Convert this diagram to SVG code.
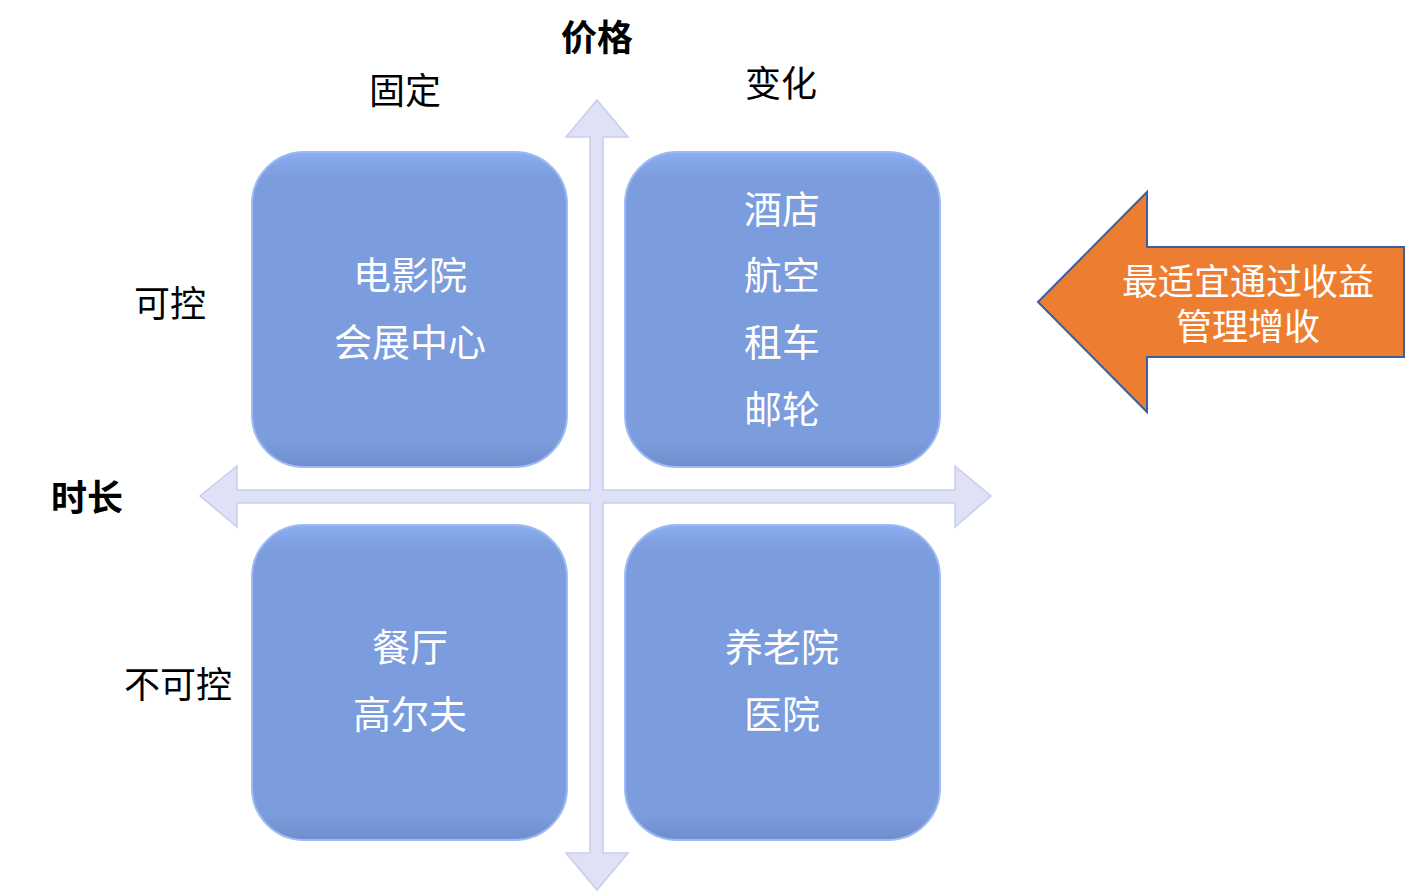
<svg xmlns="http://www.w3.org/2000/svg" width="1405" height="895" viewBox="0 0 1405 895">
<style>
.box{stroke:#9dbaf2;stroke-width:2;fill:url(#g)}
.bt{font-family:"Noto Sans CJK SC","Liberation Sans",sans-serif;font-size:38px;fill:#ffffff;text-anchor:middle;dominant-baseline:central}
.lb{font-family:"Noto Sans CJK SC","Liberation Sans",sans-serif;font-size:36px;fill:#000000;text-anchor:middle;dominant-baseline:central}
.ot{font-size:36px}
.bold{font-weight:bold}
.ax{fill:#dfe2f6;stroke:#c9cdeb;stroke-width:1.5}
</style>
<defs>
<linearGradient id="g" x1="0" y1="0" x2="0" y2="1">
<stop offset="0" stop-color="#8aaef0"/>
<stop offset="0.08" stop-color="#7b9cdd"/>
<stop offset="0.92" stop-color="#7b9cdd"/>
<stop offset="1" stop-color="#6f8dcc"/>
</linearGradient>
</defs>
<rect width="1405" height="895" fill="#ffffff"/>
<g id="connectors">
<path class="ax" d="M590,137 L566,137 L597,100 L628,137 L603,137 L603,490 L955,490 L955,466 L991,496 L955,527 L955,503 L603,503 L603,853 L628,853 L597,890 L566,853 L590,853 L590,503 L237,503 L237,527 L200,496 L237,466 L237,490 L590,490 Z"/>
</g>
<g id="n1"><rect class="box" x="252" y="152" width="315" height="315" rx="52"/>
<text class="bt" x="410" y="272">电影院</text><text class="bt" x="410" y="339">会展中心</text></g>
<g id="n2"><rect class="box" x="625" y="152" width="315" height="315" rx="52"/>
<text class="bt" x="782" y="206">酒店</text><text class="bt" x="782" y="272">航空</text><text class="bt" x="782" y="339">租车</text><text class="bt" x="782" y="406">邮轮</text></g>
<g id="n3"><rect class="box" x="252" y="525" width="315" height="315" rx="52"/>
<text class="bt" x="410" y="644">餐厅</text><text class="bt" x="410" y="711">高尔夫</text></g>
<g id="n4"><rect class="box" x="625" y="525" width="315" height="315" rx="52"/>
<text class="bt" x="782" y="644">养老院</text><text class="bt" x="782" y="711">医院</text></g>
<g id="arrow">
<path d="M1038,302 L1147,192 L1147,247 L1404,247 L1404,357 L1147,357 L1147,412 Z" fill="#ed7d31" stroke="#3f5f9a" stroke-width="2"/>
<text class="bt ot" x="1248" y="279">最适宜通过收益<tspan x="1248" dy="45">管理增收</tspan></text>
</g>
<g id="labels">
<text class="lb bold" x="597" y="35">价格</text>
<text class="lb" x="405" y="88">固定</text>
<text class="lb" x="781" y="81">变化</text>
<text class="lb" x="170" y="301">可控</text>
<text class="lb bold" x="87" y="495">时长</text>
<text class="lb" x="178" y="682">不可控</text>
</g>
</svg>
